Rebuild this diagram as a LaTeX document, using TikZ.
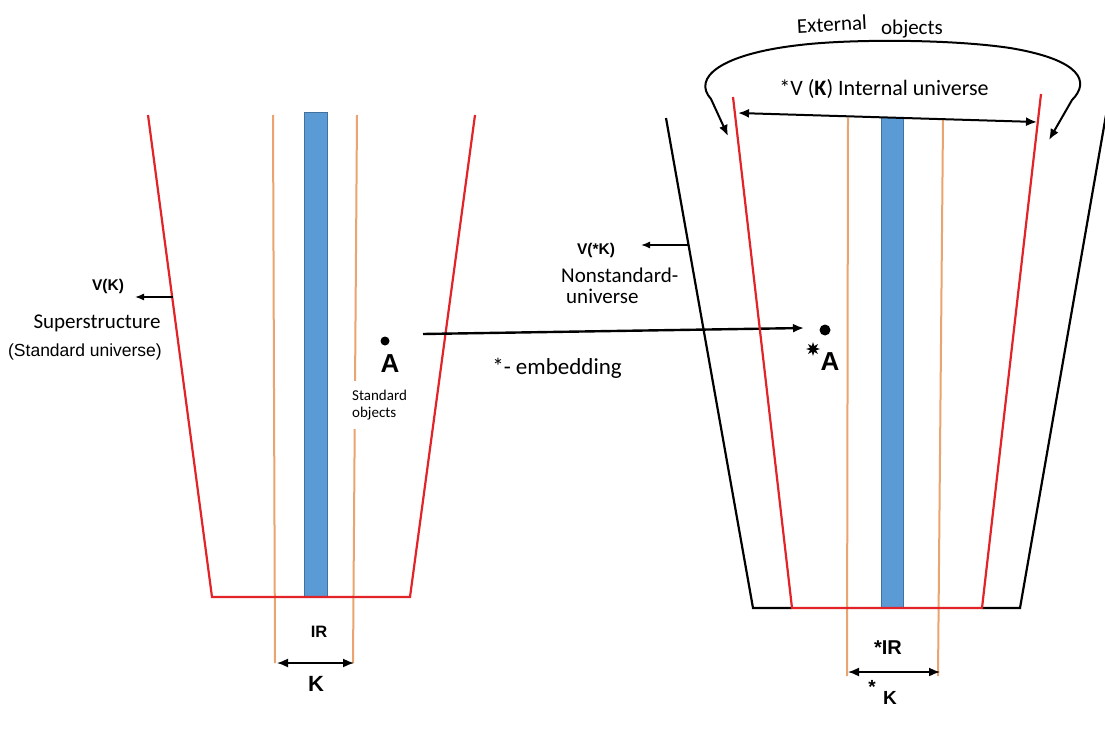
\documentclass[tikz,border=0pt]{standalone}
\usepackage{fontspec}
\setmainfont{Carlito}
\newfontfamily\arialf{Liberation Sans}
\usetikzlibrary{arrows.meta,shapes.geometric}
\definecolor{myred}{RGB}{226,35,40}
\definecolor{myorange}{RGB}{234,164,112}
\definecolor{myblue}{RGB}{91,155,213}
\definecolor{myblueb}{RGB}{65,113,156}
\begin{document}
\begin{tikzpicture}[x=1pt,y=-1pt,
  redl/.style={draw=myred,line width=2.2pt},
  orl/.style={draw=myorange,line width=2pt},
  bar/.style={fill=myblue,draw=myblueb,line width=1pt},
  blk/.style={draw=black,line width=2.2pt},
  tip/.style={-{Latex[length=11pt,width=9pt]}},
  stip/.style={-{Latex[length=9pt,width=7pt]},line width=1.4pt},
  dtip/.style={{Latex[length=11pt,width=9pt]}-{Latex[length=11pt,width=9pt]}},
  cal/.style={inner sep=0pt,font=\fontsize{21}{25}\selectfont},
  arb/.style={inner sep=0pt,font=\arialf\bfseries\fontsize{#1}{#1}\selectfont},
  dot/.style={fill=black,circle,inner sep=0pt,minimum size=#1}
]
\useasboundingbox (0,0) rectangle (1105,741);
\fill[white] (0,0) rectangle (1105,741);

% ---------------- left picture ----------------
\draw[orl] (273,115) -- (275,663);
\draw[orl] (357,115) -- (353,663);
\draw[bar] (304,113) rectangle (327,597);
\draw[redl] (148,115) -- (212,597) -- (410,597) -- (475,115);
\node[fill=white,inner xsep=2pt,inner ysep=9pt,align=left,anchor=west,
      font=\fontsize{15}{17}\selectfont] (stdobj) at (350,405) {Standard\\objects};

\node[dot=9pt] (dotA) at (385,341) {};
\node[arb=26] (A) at (390,364) {A};

\node[arb=15.5] (vk) at (108,286) {V(K)};
\coordinate (vkfrom) at (173,297);
\coordinate (vkto) at (135,297);
\draw[stip] (vkfrom) -- (vkto);
\node[cal,font=\fontsize{21}{25}\selectfont] (sup) at (97,323) {Superstructure};
\node[inner sep=0pt,font=\arialf\fontsize{17.5}{20}\selectfont] (stdu) at (85,352) {(Standard universe)};

\node[arb=16.5] (IR) at (319,632) {IR};
\coordinate (kl) at (277,663);
\coordinate (kr) at (354,663);
\draw[dtip,line width=1.6pt] (kl) -- (kr);
\node[arb=22] (K) at (316,684) {K};

% ---------------- embedding ----------------
\coordinate (e1) at (423,334);
\coordinate (e2) at (804,328);
\draw[tip,line width=2.4pt] (e1) -- (e2);
\node[cal,font=\fontsize{23}{27}\selectfont] (emb) at (557,368) {*- embedding};

% ---------------- right picture ----------------
\draw[orl] (848,118) -- (847,676);
\draw[orl] (943,120) -- (938,676);
\draw[bar] (881,118) rectangle (903,608);
\draw[blk] (666,118) -- (753,608) -- (792,608);
\draw[blk] (982,608) -- (1020,608) -- (1106,115);
\draw[redl] (733,97) -- (792,608) -- (982,608) -- (1041,94);

\coordinate (il) at (738,113);
\coordinate (ir) at (1037,122);
\draw[dtip,line width=2pt] (il) -- (ir);
\node[cal,font=\fontsize{22}{26}\selectfont] (intu) at (884,89) {*V (\textbf{K}) Internal universe};

\coordinate (al) at (728,136);
\coordinate (ar) at (1049,140);
\draw[dtip,line width=2pt] (al) -- (711,99) .. controls (692,78) and (720,54) .. (800,45)
   .. controls (850,39) and (950,39) .. (1010,48)
   .. controls (1082,60) and (1090,82) .. (1072,100) -- (ar);
\node[cal,rotate=3] (ext) at (832,24) {External};
\node[cal] (obj) at (912,29) {objects};

\node[arb=15.5] (vsk) at (596,250) {V(*K)};
\coordinate (vskfrom) at (688,245);
\coordinate (vskto) at (641,245);
\draw[stip] (vskfrom) -- (vskto);
\node[cal,anchor=west] (nons) at (561,275) {Nonstandard-};
\node[cal,anchor=west] (univ) at (566,296) {universe};

\node[dot=11pt] (dotB) at (825,330) {};
\node[star,star points=8,star point ratio=2.2,fill=black,inner sep=0pt,minimum size=14pt] (stB) at (813,349) {};
\node[arb=26] (sA) at (830,362) {A};

\node[arb=20] (sIR) at (888,648) {*IR};
\coordinate (skl) at (848,672);
\coordinate (skr) at (940,672);
\draw[dtip,line width=1.6pt] (skl) -- (skr);
\node[arb=19] (sst) at (872,687) {*};
\node[arb=19] (sK) at (890,698) {K};
\end{tikzpicture}
\end{document}
